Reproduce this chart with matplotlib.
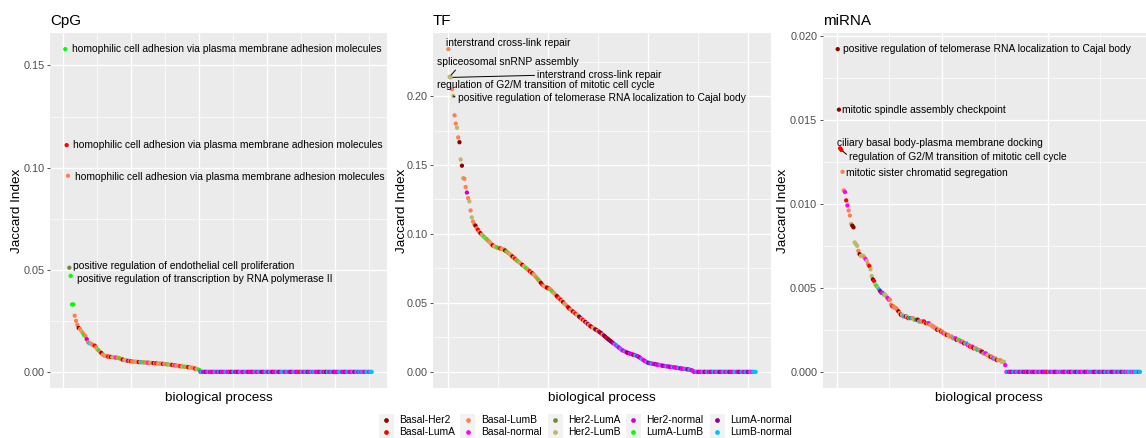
import numpy as np
import matplotlib
matplotlib.use("Agg")
import matplotlib.pyplot as plt
from matplotlib.patches import Rectangle

plt.rcParams['font.family'] = ['Liberation Sans', 'DejaVu Sans']

# ---------------- data ----------------
groups = ["Basal-Her2", "Basal-LumA", "Basal-LumB", "Basal-normal", "Her2-LumA",
          "Her2-LumB", "Her2-normal", "LumA-LumB", "LumA-normal", "LumB-normal"]
group_codes = "abcdefghij"
group_colors = ["#8B0000", "#FF0000", "#FF7F50", "#FF00FF", "#6E8B3D",
                "#BDB76B", "#CD00CD", "#00FF00", "#8B008B", "#00BFFF"]

panel_titles = ["CpG", "TF", "miRNA"]

cpg_values = [
    0.158, 0.111, 0.096, 0.051, 0.047, 0.033, 0.033, 0.0275, 0.025, 0.023,
    0.0215, 0.021, 0.020, 0.019, 0.018, 0.0175, 0.016, 0.0145, 0.014, 0.0138,
    0.0135, 0.013, 0.0128, 0.012, 0.011, 0.0105, 0.0098, 0.0092, 0.0085, 0.008,
    0.0078, 0.0076, 0.0075, 0.0074, 0.0073, 0.0072, 0.0071, 0.0070, 0.0070, 0.0069,
    0.0068, 0.0065, 0.0062, 0.0060, 0.0058, 0.0056, 0.0055, 0.0054, 0.0053, 0.0052,
    0.0051, 0.0050, 0.0050, 0.0049, 0.0049, 0.0048, 0.0048, 0.0047, 0.0047, 0.0046,
    0.0046, 0.0045, 0.0045, 0.0044, 0.0044, 0.0043, 0.0043, 0.0042, 0.0042, 0.0041,
    0.0041, 0.0040, 0.0040, 0.0039, 0.0039, 0.0038, 0.0037, 0.0036, 0.0035, 0.0035,
    0.0034, 0.0033, 0.0032, 0.0031, 0.0030, 0.0029, 0.0028, 0.0027, 0.0026, 0.0025,
    0.0025, 0.0024, 0.0023, 0.0022, 0.0021, 0.0020, 0.0018, 0.0016, 0.0014, 0.0012,
    0.0010,
    0, 0, 0, 0, 0, 0, 0, 0, 0, 0, 0, 0, 0, 0, 0, 0, 0, 0, 0, 0,
    0, 0, 0, 0, 0, 0, 0, 0, 0, 0, 0, 0, 0, 0, 0, 0, 0, 0, 0, 0,
    0, 0, 0, 0, 0, 0, 0, 0, 0, 0, 0, 0, 0, 0, 0, 0, 0, 0, 0, 0,
    0, 0, 0, 0, 0, 0, 0, 0, 0, 0, 0, 0, 0, 0, 0, 0, 0, 0, 0, 0,
    0, 0, 0, 0, 0, 0, 0, 0, 0, 0, 0, 0, 0, 0, 0, 0, 0, 0, 0, 0,
    0, 0, 0, 0, 0, 0, 0, 0, 0, 0, 0, 0, 0, 0, 0, 0, 0, 0, 0, 0,
    0, 0, 0, 0, 0, 0, 0, 0, 0,
]
cpg_groups = ("hbcehhhccc" "acfchcgcjf" "ccbcfhcacc" "fcbcacfcdc" "chcacfcicb"
              "cccfcacjch" "ccdcfcacbc" "fccicchcfc" "acdcccbcfh" "ccacfccbcf" "h"
              "djgdidjgdb" "djdgjidgdj" "dgdadjgdid" "jdgdjdidgb" "djgdjdigdj"
              "dgjdadgjdi" "djjgdjdgid" "jdgdbdjgdj" "idgjdjdgdi" "djgdajdgjd"
              "idgdjjgdid" "jdgdjidjgj" "djdgjjdjj")

tf_values = [
    0.234, 0.214, 0.2135, 0.205, 0.200, 0.186, 0.180, 0.177, 0.170, 0.1665,
    0.154, 0.1495, 0.1405, 0.1400, 0.134, 0.130, 0.126, 0.1236, 0.117, 0.112,
    0.109, 0.107, 0.106, 0.104, 0.103, 0.1015, 0.1005, 0.0995, 0.0988, 0.0978,
    0.0970, 0.0962, 0.0953, 0.0944, 0.0935, 0.0925, 0.0917, 0.0911, 0.0907, 0.0904,
    0.0900, 0.0897, 0.0895, 0.0892, 0.0889, 0.0887, 0.0880, 0.0873, 0.0866, 0.0859,
    0.0852, 0.0844, 0.0836, 0.0828, 0.0820, 0.0812, 0.0804, 0.0797, 0.0790, 0.0783,
    0.0775, 0.0767, 0.0760, 0.0752, 0.0745, 0.0738, 0.0730, 0.0722, 0.0715, 0.0708,
    0.0698, 0.0688, 0.0677, 0.0667, 0.0656, 0.0645, 0.0634, 0.0624, 0.0618, 0.0614,
    0.0610, 0.0606, 0.0602, 0.0595, 0.0585, 0.0576, 0.0568, 0.0558, 0.0549, 0.0540,
    0.0532, 0.0523, 0.0514, 0.0505, 0.0496, 0.0487, 0.0478, 0.0469, 0.0460, 0.0452,
    0.0444, 0.0437, 0.0430, 0.0422, 0.0415, 0.0408, 0.0400, 0.0392, 0.0385, 0.0377,
    0.0370, 0.0362, 0.0355, 0.0347, 0.0340, 0.0332, 0.0326, 0.0321, 0.0315, 0.0309,
    0.0303, 0.0298, 0.0292, 0.0286, 0.0279, 0.0271, 0.0264, 0.0256, 0.0248, 0.0241,
    0.0233, 0.0226, 0.0219, 0.0212, 0.0205, 0.0198, 0.0192, 0.0185, 0.0177, 0.0170,
    0.0163, 0.0157, 0.0152, 0.0148, 0.0144, 0.0139, 0.0136, 0.0133, 0.0130, 0.0127,
    0.0124, 0.0121, 0.0118, 0.0115, 0.0110, 0.0104, 0.0098, 0.0092, 0.0086, 0.0080,
    0.0074, 0.0068, 0.0066, 0.0064, 0.0062, 0.0060, 0.0058, 0.0057, 0.0055, 0.0053,
    0.0051, 0.0050, 0.0048, 0.0046, 0.0044, 0.0043, 0.0041, 0.0040, 0.0039, 0.0038,
    0.0036, 0.0035, 0.0034, 0.0033, 0.0031, 0.0030, 0.0029, 0.0027, 0.0025, 0.0024,
    0.0023, 0.0022, 0.0021, 0.0020, 0.0018, 0.0017, 0.0015, 0.0012, 0.0008,
    0, 0, 0, 0, 0, 0, 0, 0, 0, 0, 0, 0, 0, 0, 0, 0, 0, 0, 0, 0,
    0, 0, 0, 0, 0, 0, 0, 0, 0, 0, 0, 0, 0, 0, 0, 0, 0, 0, 0, 0,
    0, 0, 0, 0, 0, 0, 0, 0, 0, 0, 0,
]
tf_groups = ("cffcfccfca" "fafccgcfcf" "ccacbcacfh" "fhccfcacfc" "hcbcfcahcc"
             "fcacbchcfc" "acfhccbcac" "fcchcabcfc" "abcchcfcab" "cbcacfcbac"
             "cacbcfaicb" "cacicbacfi" "acbiaciabi" "aiaigjdjgd" "jdgjdaidgd"
             "adjgdidjdg" "djigdjdgid" "gdjdigdjgd" "idjgdgdjid" "gdjdidjgd"
             "dgjdidgjda" "djgdidjgdj" "digdjdgjdi" "dgdjjdgidj" "dgjdidjdjj" "j")

mirna_values = [
    0.0192, 0.0156, 0.0133, 0.0132, 0.0119, 0.0108, 0.0107, 0.0102, 0.0099, 0.0096,
    0.0093, 0.0088, 0.0087, 0.0086, 0.0077, 0.0076, 0.0075, 0.0072, 0.0070, 0.0069,
    0.0069, 0.0069, 0.0068, 0.0067, 0.0066, 0.0064, 0.0063, 0.0061, 0.0057, 0.0055,
    0.0054, 0.0052, 0.0051, 0.0050, 0.0049, 0.0048, 0.0047, 0.0047, 0.0046, 0.0046,
    0.0045, 0.0044, 0.0043, 0.0043, 0.0040, 0.0039, 0.0039, 0.0038, 0.0038, 0.0037,
    0.0036, 0.0035, 0.0034, 0.0034, 0.0033, 0.0033, 0.0033, 0.0033, 0.0032, 0.0032,
    0.0032, 0.0032, 0.0032, 0.0031, 0.0031, 0.0031, 0.0031, 0.0030, 0.0030, 0.0030,
    0.0030, 0.0030, 0.0029, 0.0029, 0.0029, 0.0029, 0.0028, 0.0028, 0.0027, 0.0027,
    0.0026, 0.0026, 0.0025, 0.0025, 0.0025, 0.0024, 0.0024, 0.0023, 0.0023, 0.0022,
    0.0022, 0.0022, 0.0021, 0.0021, 0.0021, 0.0020, 0.0020, 0.0020, 0.0019, 0.0019,
    0.0019, 0.0018, 0.0018, 0.0018, 0.0017, 0.0017, 0.0017, 0.0016, 0.0016, 0.0015,
    0.0015, 0.0015, 0.0014, 0.0014, 0.0014, 0.0013, 0.0013, 0.0013, 0.0012, 0.0012,
    0.0011, 0.0011, 0.0011, 0.0010, 0.0010, 0.0009, 0.0009, 0.0009, 0.0008, 0.0008,
    0.0008, 0.0007, 0.0007, 0.0007, 0.0007, 0.0006, 0.0006, 0.0006, 0.0004,
    0, 0, 0, 0, 0, 0, 0, 0, 0, 0, 0, 0, 0, 0, 0, 0, 0, 0, 0, 0,
    0, 0, 0, 0, 0, 0, 0, 0, 0, 0, 0, 0, 0, 0, 0, 0, 0, 0, 0, 0,
    0, 0, 0, 0, 0, 0, 0, 0, 0, 0, 0, 0, 0, 0, 0, 0, 0, 0, 0, 0,
    0, 0, 0, 0, 0, 0, 0, 0, 0, 0, 0, 0, 0, 0, 0, 0, 0, 0, 0, 0,
    0, 0, 0, 0, 0, 0, 0, 0, 0, 0, 0, 0, 0, 0, 0, 0, 0, 0, 0, 0,
    0, 0, 0, 0, 0, 0, 0, 0, 0, 0, 0,
]
mirna_groups = ("aabbccdbdc" "cfaafffcaf" "ffcdfcbffa" "bfhfjigdhf" "fddccbcccc"
                "acafjcifbh" "djcfhdacjc" "cbcacdcfcc" "ccaccbcdcc" "acfccjcdac"
                "hcdcacjdcb" "cdafcjhcda" "cjdcfcacdj" "cacfcfffd"
                "djgdidjgdj" "dgdjidgdad" "jgdidjdgjd" "idgdbjdgjd" "igdjdjgdid"
                "jgdadjdgij" "dgdjdidgjd" "jdgidjdgdj" "idjgdjdigd" "jdgjdidjgj"
                "djjdjdjjjdj")

# labelled processes: (point rank, label)
cpg_labels = [
    (1, "homophilic cell adhesion via plasma membrane adhesion molecules"),
    (2, "homophilic cell adhesion via plasma membrane adhesion molecules"),
    (3, "homophilic cell adhesion via plasma membrane adhesion molecules"),
    (4, "positive regulation of endothelial cell proliferation"),
    (5, "positive regulation of transcription by RNA polymerase II"),
]
tf_labels = [
    (1, "interstrand cross-link repair"),
    (2, "spliceosomal snRNP assembly"),
    (3, "interstrand cross-link repair"),
    (4, "regulation of G2/M transition of mitotic cell cycle"),
    (5, "positive regulation of telomerase RNA localization to Cajal body"),
]
mirna_labels = [
    (1, "positive regulation of telomerase RNA localization to Cajal body"),
    (2, "mitotic spindle assembly checkpoint"),
    (3, "ciliary basal body-plasma membrane docking"),
    (4, "regulation of G2/M transition of mitotic cell cycle"),
    (5, "mitotic sister chromatid segregation"),
]

cpg_yticks = [0.00, 0.05, 0.10, 0.15]
tf_yticks = [0.00, 0.05, 0.10, 0.15, 0.20]
mirna_yticks = [0.000, 0.005, 0.010, 0.015, 0.020]
cpg_yticklabels = ["0.00", "0.05", "0.10", "0.15"]
tf_yticklabels = ["0.00", "0.05", "0.10", "0.15", "0.20"]
mirna_yticklabels = ["0.000", "0.005", "0.010", "0.015", "0.020"]

for v, g in [(cpg_values, cpg_groups), (tf_values, tf_groups), (mirna_values, mirna_groups)]:
    assert len(v) == len(g), (len(v), len(g))

# ---------------- layout / style ----------------
W, H = 1146, 438
fig = plt.figure(figsize=(W / 100, H / 100), dpi=100)

PANEL_BG = "#EBEBEB"
code_to_color = dict(zip(group_codes, group_colors))

top_px, bot_px = 33, 388
panel_boxes = [(50, 337), (433, 338), (822.6, 332.5)]
ylabel_x = [-0.098, -0.093, -0.119]
vgrid = [(-0.79, 25.44, 10), (1.0, 40.43, 8), (0.18, 43.41, 8)]
ann_pos = [
    [(0.0653, 0.9541, None), (0.0697, 0.6837, None), (0.0742, 0.5952, None),
     (0.0697, 0.3430, None), (0.0801, 0.3062, None)],
    [(0.0385, 0.9727, None), (0.011, 0.9175, (0.15, 0.0)), (0.3086, 0.8808, (0.0, 0.5)),
     (0.011, 0.8535, None), (0.0731, 0.8161, (0.0, 0.5))],
    [(0.0623, 0.9541, None), (0.0592, 0.7831, None), (0.0424, 0.6893, None),
     (0.0803, 0.6515, (0.0, 0.5)), (0.0695, 0.6065, None)],
]

datasets = [
    (cpg_values, cpg_groups, cpg_labels, cpg_yticks, cpg_yticklabels),
    (tf_values, tf_groups, tf_labels, tf_yticks, tf_yticklabels),
    (mirna_values, mirna_groups, mirna_labels, mirna_yticks, mirna_yticklabels),
]

for p, (vals, grp, labs, yt, ytl) in enumerate(datasets):
    lpx, wpx = panel_boxes[p]
    ax = fig.add_axes([lpx / W, (H - bot_px) / H, wpx / W, (bot_px - top_px) / H])
    ax.set_facecolor(PANEL_BG)
    for s in ax.spines.values():
        s.set_visible(False)

    x = np.arange(1, len(vals) + 1)
    y = np.asarray(vals, dtype=float)
    cols = [code_to_color[c] for c in grp]
    ax.scatter(x, y, s=9.5, c=cols, linewidths=0, zorder=3)
    ax.margins(x=0.05, y=0.05)
    ax.autoscale_view()
    xlim = ax.get_xlim()
    ylim = ax.get_ylim()

    for t in yt:
        ax.axhline(t, color="white", lw=0.95, zorder=1)
    step = yt[1] - yt[0]
    for t in yt:
        m = t + step / 2
        if ylim[0] < m < ylim[1]:
            ax.axhline(m, color="white", lw=0.5, zorder=1)
    g0, gs, gn = vgrid[p]
    for k in range(gn):
        gx = g0 + k * gs
        if xlim[0] < gx < xlim[1]:
            ax.axvline(gx, color="white", lw=0.95 if k % 2 == 0 else 0.5, zorder=1)
    ax.set_xlim(xlim)
    ax.set_ylim(ylim)

    ax.set_yticks(yt)
    ax.set_yticklabels(ytl)
    ax.set_xticks([])
    ax.tick_params(axis="y", length=2.4, width=0.6, color="#333333",
                   labelcolor="#4D4D4D", labelsize=7.8, pad=1.5)
    ax.set_title(panel_titles[p], loc="left", fontsize=10.9, pad=6, color="black")
    ax.set_xlabel("biological process", fontsize=9.7, labelpad=3, color="black")
    ax.set_ylabel("Jaccard Index", fontsize=9.7, color="black")
    ax.yaxis.set_label_coords(ylabel_x[p], 0.5)
    ax.yaxis.label.set_verticalalignment("center")

    for (rank, text), (tx, ty, rel) in zip(labs, ann_pos[p]):
        kw = {}
        if rel is not None:
            kw["arrowprops"] = dict(arrowstyle="-", lw=0.7, color="black",
                                    shrinkA=0, shrinkB=1.5, relpos=rel)
        ax.annotate(text, xy=(rank, vals[rank - 1]), xycoords="data",
                    xytext=(tx, ty), textcoords="axes fraction",
                    ha="left", va="center", fontsize=7.4, color="black",
                    annotation_clip=False, zorder=5, **kw)

# ---------------- legend ----------------
lax = fig.add_axes([0, 0, 1, 1])
lax.set_xlim(0, W)
lax.set_ylim(H, 0)
lax.axis("off")
lax.patch.set_visible(False)
col_dot_x = [386, 467.7, 555, 633, 717]
row_y = [420, 431.7]
for k, (name, colr) in enumerate(zip(groups, group_colors)):
    c, r = k // 2, k % 2
    dx, dy = col_dot_x[c], row_y[r]
    lax.add_patch(Rectangle((dx - 7.5, dy - 5.85), 15, 11.7, facecolor="#F2F2F2",
                            edgecolor="none", zorder=1))
    lax.plot([dx], [dy], marker="o", ms=3.4, color=colr, mec="none", zorder=2)
    lax.text(dx + 13, dy, name, ha="left", va="center", fontsize=7.4, color="black")

fig.savefig("out.png", dpi=100)
